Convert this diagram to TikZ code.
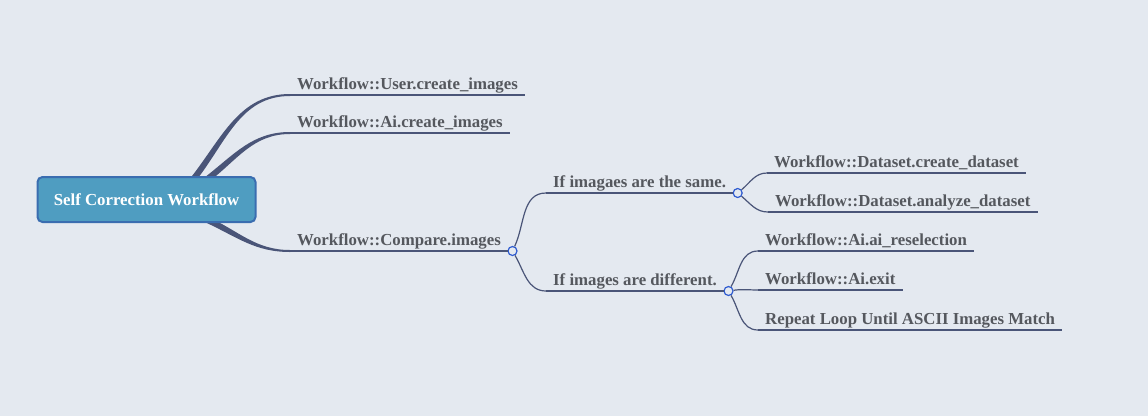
\documentclass[tikz,border=0pt]{standalone}
\usepackage{fontspec}
\setmainfont{Liberation Serif}
\usetikzlibrary{calc,backgrounds}
\definecolor{bgcol}{HTML}{E4E9F0}
\definecolor{rootfill}{HTML}{4F9DC1}
\definecolor{rootline}{HTML}{3A6DB0}
\definecolor{linecol}{HTML}{4A5578}
\definecolor{textcol}{HTML}{55585E}
\definecolor{knotcol}{HTML}{2E5BD0}
\tikzset{
  root/.style={draw=rootline,fill=rootfill,line width=2pt,rounded corners=5pt,
    minimum width=218pt,minimum height=45pt,text=white,
    font=\bfseries\fontsize{16.8}{20}\selectfont},
  topic/.style={anchor=south west,inner xsep=7pt,inner ysep=5pt,text depth=0pt,
    text=textcol,font=\bfseries\fontsize{16.8}{20}\selectfont},
  uline/.style={draw=linecol,line width=1.2pt},
  twig/.style={draw=linecol,line width=1.2pt},
  trunk/.style={fill=linecol},
  knot/.style={circle,draw=knotcol,fill=bgcol,line width=1.2pt,minimum size=9pt,inner sep=0pt}
}
\newcommand\trunkto[3]{%
  \fill[trunk] ($(#1)+(#3+90:3)$) to[out=#3,in=180] ($(#2)+(0,1)$)
    -- ($(#2)+(0,-1)$) to[out=180,in=#3] ($(#1)+(#3-90:3)$) -- cycle;}
\begin{document}
\begin{tikzpicture}[x=1pt,y=1pt]
  \node[root] (root) at (146.5,-199.5) {Self Correction Workflow};
  \node[topic] (user) at (290,-95) {Workflow::User.create\_images};
  \node[topic] (ai) at (290,-133) {Workflow::Ai.create\_images};
  \node[topic] (cmp) at (290,-251) {Workflow::Compare.images};
  \node[knot] (k1) at ($(cmp.south east)+(4.5,0)$) {};
  \node[topic] (same) at (546,-193) {If imagaes are the same.};
  \node[topic] (diff) at (546,-291) {If images are different.};
  \node[knot] (k2) at ($(same.south east)+(4.5,0)$) {};
  \node[knot] (k3) at ($(diff.south east)+(4.5,0)$) {};
  \node[topic] (create) at (767,-173) {Workflow::Dataset.create\_dataset};
  \node[topic] (analyze) at (768,-212) {Workflow::Dataset.analyze\_dataset};
  \node[topic] (resel) at (758,-251) {Workflow::Ai.ai\_reselection};
  \node[topic] (exit) at (758,-290) {Workflow::Ai.exit};
  \node[topic] (loop) at (758,-330) {Repeat Loop Until ASCII Images Match};

  \coordinate (t1) at ($(root.north)+(47,-3)$);
  \coordinate (t2) at ($(root.north)+(61,-3)$);
  \coordinate (t3) at ($(root.south)+(61,3)$);
  \begin{scope}[on background layer]
    \fill[bgcol] (0,0) rectangle (1148,-416);
    \trunkto{t1}{user.south west}{52}
    \trunkto{t2}{ai.south west}{38}
    \trunkto{t3}{cmp.south west}{-25}
  \end{scope}

  \foreach \n in {user,ai,cmp,same,diff,create,analyze,resel,exit,loop}
    \draw[uline] (\n.south west) -- (\n.south east);

  \draw[twig] (k1) to[out=65,in=180] (same.south west);
  \draw[twig] (k1) to[out=-60,in=180] (diff.south west);
  \draw[twig] (k2) to[out=40,in=180] (create.south west);
  \draw[twig] (k2) to[out=-40,in=180] (analyze.south west);
  \draw[twig] (k3) to[out=60,in=180] (resel.south west);
  \draw[twig] (k3) to[out=8,in=180] (exit.south west);
  \draw[twig] (k3) to[out=-60,in=180] (loop.south west);
\end{tikzpicture}
\end{document}
